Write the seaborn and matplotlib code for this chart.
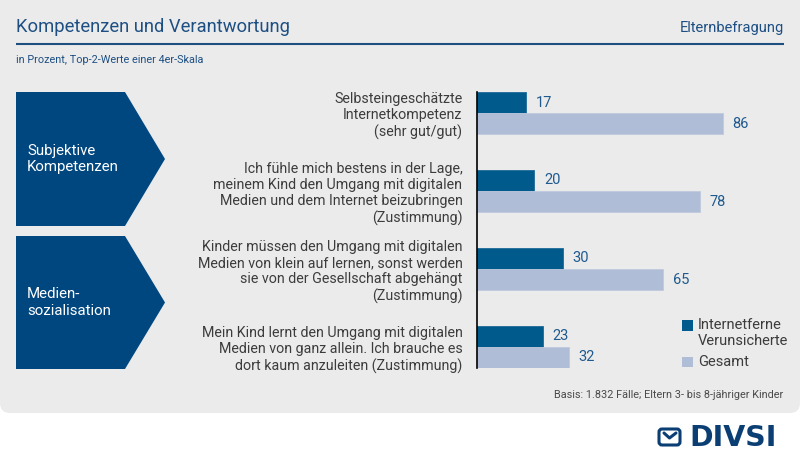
import numpy as np
import pandas as pd
import matplotlib
matplotlib.use("Agg")
import matplotlib.pyplot as plt
from matplotlib.patches import FancyBboxPatch, Polygon, Rectangle
import seaborn as sns

# Daten
aussagen = [
    "Selbsteingeschätzte\nInternetkompetenz\n(sehr gut/gut)",
    "Ich fühle mich bestens in der Lage,\nmeinem Kind den Umgang mit digitalen\nMedien und dem Internet beizubringen\n(Zustimmung)",
    "Kinder müssen den Umgang mit digitalen\nMedien von klein auf lernen, sonst werden\nsie von der Gesellschaft abgehängt\n(Zustimmung)",
    "Mein Kind lernt den Umgang mit digitalen\nMedien von ganz allein. Ich brauche es\ndort kaum anzuleiten (Zustimmung)",
]
gruppen = ["Internetferne\nVerunsicherte", "Gesamt"]
werte_internetferne = [17, 20, 30, 23]
werte_gesamt = [86, 78, 65, 32]
bereiche = ["Subjektive\nKompetenzen", "Medien-\nsozialisation"]

df = pd.DataFrame({
    "Aussage": aussagen * 2,
    "Gruppe": [gruppen[0]] * 4 + [gruppen[1]] * 4,
    "Wert": werte_internetferne + werte_gesamt,
})

DUNKEL = "#005a8c"
HELL = "#b0bdd6"
NAVY = "#00467f"
TITEL = "#1d4f83"
GRAU = "#3c3c3c"

sns.set_style("white")
plt.rcParams["font.family"] = ["Roboto", "DejaVu Sans"]

fig = plt.figure(figsize=(8, 4.63), dpi=100)
fig.patch.set_facecolor("white")

# Hintergrund in Pixelkoordinaten
bg = fig.add_axes([0, 0, 1, 1], zorder=0)
bg.set_xlim(0, 800)
bg.set_ylim(463, 0)
bg.axis("off")
bg.add_patch(FancyBboxPatch((0, -20), 800, 433, boxstyle="round,pad=0,rounding_size=10",
                            fc="#ebebeb", ec="none"))

bg.text(16, 32, "Kompetenzen und Verantwortung", fontsize=13.2, color=TITEL,
        va="baseline", ha="left")
bg.text(784, 32, "Elternbefragung", fontsize=10.5, color=TITEL, va="baseline", ha="right")
bg.plot([16, 784], [43.7, 43.7], color=TITEL, lw=1.5, solid_capstyle="butt")
bg.text(16, 63, "in Prozent, Top-2-Werte einer 4er-Skala", fontsize=7.8, color=TITEL,
        va="baseline", ha="left")

# Pfeile links
for (top, bot), name in zip([(92, 226), (236, 369)], bereiche):
    mid = (top + bot) / 2
    bg.add_patch(Polygon([(16, top), (125, top), (165, mid), (125, bot), (16, bot)],
                         closed=True, fc=NAVY, ec="none"))
    bg.text(27, mid, name, color="white", fontsize=10.8, va="center", ha="left",
            linespacing=1.2)

# Balken
ax = fig.add_axes([477 / 800, 95 / 463, 286 / 800, 276 / 463], zorder=2)
ax.patch.set_alpha(0)
sns.barplot(data=df, y="Aussage", x="Wert", hue="Gruppe", palette=[DUNKEL, HELL],
            orient="h", width=0.54, gap=0, legend=False, ax=ax, saturation=1)
for cont, col in zip(ax.containers, ["#1d6a98", "#c0cade"]):
    for p in cont:
        p.set_edgecolor(col)
        p.set_linewidth(0.6)
    ax.bar_label(cont, padding=7, fontsize=10.5, color="#1f5a8e")

ax.set_xlim(0, 100)
ax.set_ylim(3.27, -0.27)
ax.set_xlabel("")
ax.set_ylabel("")
ax.set_xticks([])
ax.tick_params(axis="y", length=0, pad=10.5, labelsize=10.3, labelcolor=GRAU)
for lab in ax.get_yticklabels():
    lab.set_multialignment("right")
    lab.set_linespacing(1.22)
for s in ["top", "right", "bottom"]:
    ax.spines[s].set_visible(False)
ax.spines["left"].set_color("black")
ax.spines["left"].set_linewidth(1.2)

# Legende
for y0, col, name in [(320, DUNKEL, gruppen[0]), (356.5, HELL, gruppen[1])]:
    bg.add_patch(Rectangle((682, y0), 10.5, 10.5, fc=col, ec="none"))
    bg.text(698, y0 - 2, name, fontsize=10.5, color=GRAU, va="top", ha="left",
            linespacing=1.2)

bg.text(783, 398, "Basis: 1.832 Fälle; Eltern 3- bis 8-jähriger Kinder", fontsize=7.8,
        color="#4a4a4a", ha="right", va="baseline")

# Logo
bg.add_patch(FancyBboxPatch((659, 429), 21, 16, boxstyle="round,pad=0,rounding_size=3",
                            fc="none", ec="#0b3f73", lw=2.2))
bg.plot([664, 669.5, 676], [433, 438, 433], color="#0b3f73", lw=2.2)
bg.text(689, 446, "DIVSI", fontsize=20.5, fontweight="bold", color="#0b3f73",
        ha="left", va="baseline", family="DejaVu Sans")

fig.savefig("out.png", dpi=100, facecolor="white")
